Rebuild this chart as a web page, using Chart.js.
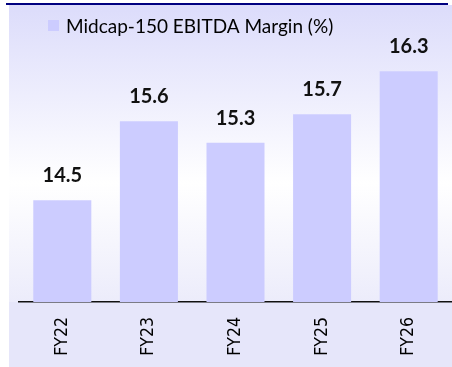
<!DOCTYPE html>
<html>
<head>
<meta charset="utf-8">
<script src="https://cdn.jsdelivr.net/npm/chart.js@4.4.0/dist/chart.umd.min.js"></script>
<style>
  html, body { margin: 0; padding: 0; background: #fff; }
</style>
</head>
<body>
<canvas id="marginChart" width="452" height="367"></canvas>
<script>
'use strict'

var years = ['FY22', 'FY23', 'FY24', 'FY25', 'FY26'];
var ebitdaMargin = [14.5, 15.6, 15.3, 15.7, 16.3];
var seriesName = 'Midcap-150 EBITDA Margin (%)';

// panel behind the plot: navy rule on top, lavender fading to white and back
var backdrop = {
  id: 'backdrop',
  beforeDraw: function (chart) {
    var ctx = chart.ctx;
    var area = chart.chartArea;
    ctx.save();
    ctx.fillStyle = '#ffffff';
    ctx.fillRect(0, 0, chart.width, chart.height);

    var grad = ctx.createLinearGradient(0, 5, 0, area.bottom);
    grad.addColorStop(0, '#dcdcfb');
    grad.addColorStop(0.6, '#ffffff');
    grad.addColorStop(1, '#ececfb');
    ctx.fillStyle = grad;
    ctx.fillRect(9, 5, chart.width - 9, area.bottom - 5);

    ctx.fillStyle = '#e6e6fa';
    ctx.fillRect(9, area.bottom, chart.width - 9, chart.height - area.bottom);

    ctx.fillStyle = '#000080';
    ctx.fillRect(6, 3, 442, 2);
    ctx.restore();
  }
};

// bold value above every bar
var valueLabels = {
  id: 'valueLabels',
  afterDatasetsDraw: function (chart) {
    var ctx = chart.ctx;
    var meta = chart.getDatasetMeta(0);
    ctx.save();
    ctx.font = 'bold 20px Lato';
    ctx.fillStyle = '#111111';
    ctx.textAlign = 'center';
    ctx.textBaseline = 'alphabetic';
    meta.data.forEach(function (bar, i) {
      ctx.fillText(ebitdaMargin[i].toFixed(1), bar.x, bar.y - 18);
    });
    ctx.restore();
  }
};

// single series key in the top left corner
var seriesKey = {
  id: 'seriesKey',
  afterDraw: function (chart) {
    var ctx = chart.ctx;
    var ds = chart.data.datasets[0];
    ctx.save();
    ctx.fillStyle = ds.backgroundColor;
    ctx.fillRect(48, 20, 11, 11);
    ctx.font = '19px Lato';
    ctx.fillStyle = '#000000';
    ctx.textAlign = 'left';
    ctx.textBaseline = 'alphabetic';
    ctx.fillText(ds.label, 66, 33);
    ctx.restore();
  }
};

var marginCanvas = document.getElementById('marginChart');

var marginChart = new Chart(marginCanvas, {
  type: 'bar',
  data: {
    labels: years,
    datasets: [
      {
        label: seriesName,
        data: ebitdaMargin,
        backgroundColor: '#ccccff',
        categoryPercentage: 1,
        barPercentage: 0.67
      }]
  },
  options: {
    responsive: false,
    animation: false,
    layout: {
      padding: { left: 19, right: 0, top: 21, bottom: 0 }
    },
    plugins: {
      legend: { display: false },
      tooltip: { enabled: false }
    },
    scales: {
      x: {
        afterFit: function (scale) {
          scale.height = 65;
        },
        grid: { display: false, drawTicks: false },
        border: { color: '#111111', width: 1.5 },
        ticks: {
          minRotation: 90,
          maxRotation: 90,
          padding: 15,
          color: '#000000',
          font: { family: '"Liberation Sans Narrow", "DejaVu Sans Condensed", sans-serif', size: 17.5 }
        }
      },
      y: {
        display: false,
        min: 13.08,
        max: 17
      }
    }
  },
  plugins: [backdrop, valueLabels, seriesKey]
});
</script>
</body>
</html>
